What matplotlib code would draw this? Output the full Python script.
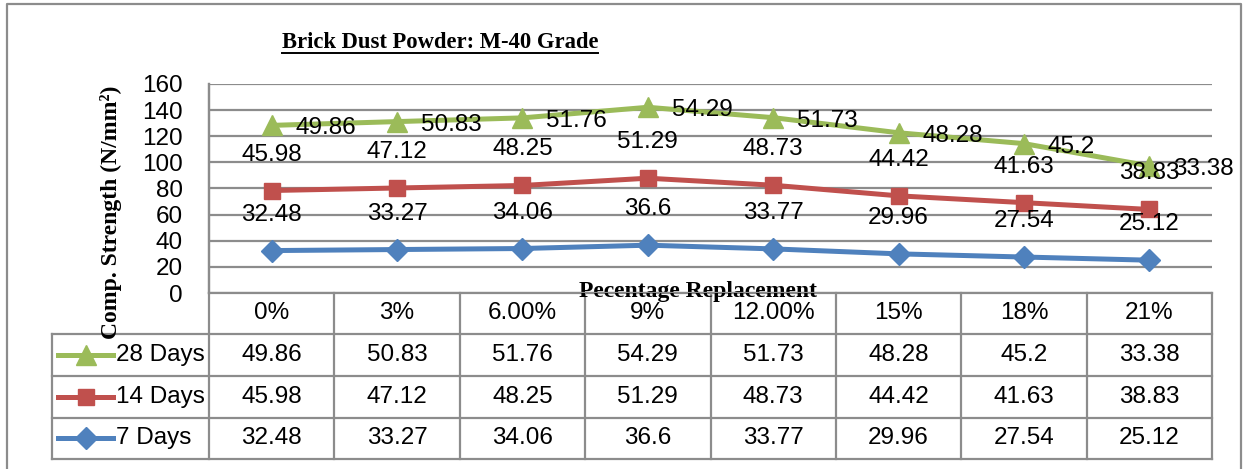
import numpy as np
import matplotlib.pyplot as plt
from matplotlib.lines import Line2D
from matplotlib.transforms import blended_transform_factory

# ------------------------
# Data (compressive strength, N/mm^2)
categories = ['0%', '3%', '6.00%', '9%', '12.00%', '15%', '18%', '21%']
days_28 = [49.86, 50.83, 51.76, 54.29, 51.73, 48.28, 45.2, 33.38]
days_14 = [45.98, 47.12, 48.25, 51.29, 48.73, 44.42, 41.63, 38.83]
days_7 = [32.48, 33.27, 34.06, 36.6, 33.77, 29.96, 27.54, 25.12]
series_names = ['28 Days', '14 Days', '7 Days']

green = '#9BBB59'
red = '#C0504D'
blue = '#4F81BD'
grid_col = '#8C8C8C'

num_font = ['Liberation Sans', 'DejaVu Sans']
serif_font = ['Liberation Serif', 'DejaVu Serif']
fs = 17.5

W, H = 1244, 469
fig = plt.figure(figsize=(W / 100, H / 100), dpi=100)

# overlay axes in pixel coordinates (for table, borders, titles)
ov = fig.add_axes([0, 0, 1, 1], zorder=0)
ov.set_xlim(0, W)
ov.set_ylim(H, 0)
ov.axis('off')

# plot area
left, right, top, bottom = 209, 1212, 84, 293
ax = fig.add_axes([left / W, 1 - bottom / H, (right - left) / W, (bottom - top) / H], zorder=1)
ax.patch.set_alpha(0)

x = np.arange(len(categories))
stack_7 = np.array(days_7)
stack_14 = stack_7 + np.array(days_14)
stack_28 = stack_14 + np.array(days_28)

ax.plot(x, stack_7, color=blue, lw=3.6, marker='D', ms=11, mec=blue, zorder=3)
ax.plot(x, stack_14, color=red, lw=3.6, marker='s', ms=12, mec=red, zorder=3)
ax.plot(x, stack_28, color=green, lw=3.6, marker='^', ms=14, mec=green, zorder=3)

ax.set_xlim(-0.5, len(categories) - 0.5)
ax.set_ylim(0, 160)
ax.set_yticks(np.arange(0, 161, 20))
ax.set_xticks([])
ax.grid(axis='y', color=grid_col, lw=1.6)
ax.set_axisbelow(True)
for s in ['top', 'right', 'bottom']:
    ax.spines[s].set_visible(False)
ax.spines['left'].set_color(grid_col)
ax.spines['left'].set_linewidth(1.6)
ax.tick_params(axis='y', length=0, pad=19, labelsize=fs)
for lab in ax.get_yticklabels():
    lab.set_family(num_font)

# data labels
for i in range(len(categories)):
    ax.annotate(f'{days_28[i]:g}', (x[i], stack_28[i]), xytext=(24, -3),
                textcoords='offset pixels', ha='left', va='center',
                fontsize=fs, family=num_font, zorder=4)
    ax.annotate(f'{days_14[i]:g}', (x[i], stack_14[i]), xytext=(0, 36),
                textcoords='offset pixels', ha='center', va='center',
                fontsize=fs, family=num_font, zorder=4)
    ax.annotate(f'{days_7[i]:g}', (x[i], stack_7[i]), xytext=(0, 36),
                textcoords='offset pixels', ha='center', va='center',
                fontsize=fs, family=num_font, zorder=4)

# ------------------------
# Data table below the plot
tr = blended_transform_factory(ax.transData, ov.transData)
row_lines = [293, 334, 376, 418, 459]
row_centers = [313, 355, 397, 438]
bounds = np.arange(len(categories) + 1) - 0.5

for b in bounds:
    ov.plot([b, b], [293, 459], color=grid_col, lw=1.6, transform=tr)
ov.plot([-0.5, -0.5], [84, 293], color=grid_col, lw=1.6, transform=tr)
ov.plot([52, 52], [334, 459], color=grid_col, lw=1.6)
ov.plot([left, right], [293, 293], color=grid_col, lw=1.6)
for yl in row_lines[1:]:
    ov.plot([52, right], [yl, yl], color=grid_col, lw=1.6)

for i, c in enumerate(categories):
    ov.text(x[i], row_centers[0], c, transform=tr, ha='center', va='center',
            fontsize=fs, family=num_font)
    for r, vals in enumerate([days_28, days_14, days_7]):
        ov.text(x[i], row_centers[r + 1], f'{vals[i]:g}', transform=tr,
                ha='center', va='center', fontsize=fs, family=num_font)

styles = [(green, '^', 14), (red, 's', 12), (blue, 'D', 11)]
for r, (name, (col, mk, ms)) in enumerate(zip(series_names, styles)):
    yc = row_centers[r + 1]
    ov.add_line(Line2D([58, 113], [yc, yc], color=col, lw=3.6))
    ov.add_line(Line2D([85.5], [yc], color=col, marker=mk, ms=ms, mec=col))
    ov.text(116, yc, name, ha='left', va='center', fontsize=fs, family=num_font)

# ------------------------
# Titles and labels
title = ov.text(440, 43, 'Brick Dust Powder: M-40 Grade', ha='center', va='center',
                fontsize=16.3, fontweight='bold', family=serif_font)
ov.text(111, 212, 'Comp. Strength (N/mm²)', rotation=90, ha='center', va='center',
        fontsize=17, fontweight='bold', family=serif_font)
ov.text(698, 291, 'Pecentage Replacement', ha='center', va='center',
        fontsize=17, fontweight='bold', family=serif_font, zorder=5)

fig.canvas.draw()
bb = title.get_window_extent()
ov.plot([bb.x0, bb.x1], [53, 53], color='black', lw=1.4)

# outer chart border
ov.plot([7, 7, 1241, 1241], [475, 4, 4, 475], color='#8C8C8C', lw=1.6, clip_on=False)

fig.savefig('out.png', dpi=100)
